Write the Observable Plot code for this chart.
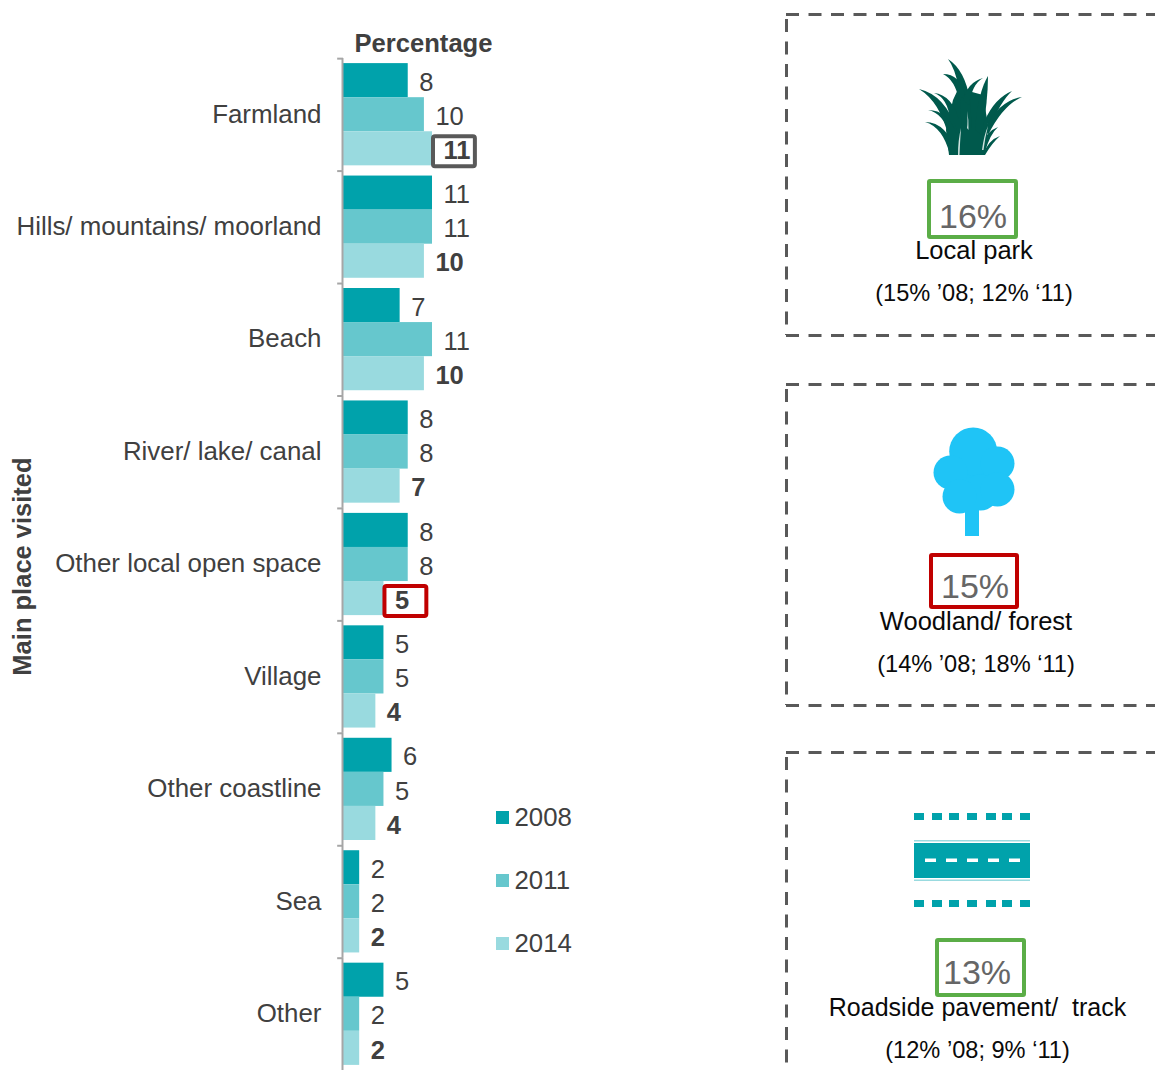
<!DOCTYPE html>
<html>
<head>
<meta charset="utf-8">
<style>
html,body{margin:0;padding:0;background:#fff;overflow:hidden;width:1155px;height:1070px}
#wrap{position:relative;width:1155px;height:1070px}
#wrap svg{position:absolute;left:0;top:0}
</style>
<script src="https://cdn.jsdelivr.net/npm/d3@7"></script>
<script src="https://cdn.jsdelivr.net/npm/@observablehq/plot@0.6"></script>
</head>
<body>
<div id="wrap"></div>
<script>
const categories = ["Farmland","Hills/ mountains/ moorland","Beach","River/ lake/ canal","Other local open space","Village","Other coastline","Sea","Other"];
const years = [2008,2011,2014];
const v2008 = [8,11,7,8,8,5,6,2,5];
const v2011 = [10,11,11,8,8,5,5,2,2];
const v2014 = [11,10,10,7,5,4,4,2,2];
const yearColors = ["#00A2AB","#66C7CD","#99DADF"];
const highlights = [{cat:"Farmland",year:2014,v:11,color:"#595959"},{cat:"Other local open space",year:2014,v:5,color:"#C00000"}];

const panelNames = ["Local park","Woodland/ forest","Roadside pavement/  track"];
const panelPct = ["16%","15%","13%"];
const panelPrev = ["(15% ’08; 12% ‘11)","(14% ’08; 18% ‘11)","(12% ’08; 9% ‘11)"];
const panelColors = ["#5BAD47","#C00000","#5BAD47"];

const rows = [v2008,v2011,v2014].flatMap((vals,i)=>vals.map((v,j)=>({cat:categories[j],year:years[i],v})));
const ink = "#404040", axisGrey = "#A6A6A6", font = "Liberation Sans, Arial, sans-serif";

const chart = Plot.plot({
  width:780, height:1070, marginTop:58, marginBottom:0, marginLeft:343, marginRight:0,
  style:{fontFamily:font, background:"transparent"},
  x:{domain:[0,11], range:[343,432], axis:null},
  y:{domain:years, paddingInner:0, paddingOuter:0.15, round:false, axis:null},
  fy:{domain:categories, padding:0, round:false},
  color:{domain:years, range:yearColors},
  marks:[
    Plot.axisFy({anchor:"left", tickSize:0, tickPadding:22, fontSize:25.9, label:null, fill:ink, dy:-0.5}),
    Plot.barX(rows,{x:"v", y:"year", fy:"cat", fill:"year"}),
    Plot.ruleX([0],{stroke:axisGrey, strokeWidth:2, dx:-1}),
    Plot.ruleY([years[0]],{x1:-0.72, x2:0, dy:-22, stroke:axisGrey, strokeWidth:2}),
    Plot.barX(highlights,{x1:"v", x2:d=>d.v+5.3, y:"year", fy:"cat", fill:"white", stroke:"color", strokeWidth:4, rx:2, insetTop:5, insetBottom:-1, insetLeft:1}),
    Plot.text(rows.filter(d=>d.year!==2014),{x:"v", y:"year", fy:"cat", text:"v", dx:11, dy:2, textAnchor:"start", fontSize:25.5, fill:ink}),
    Plot.text(rows.filter(d=>d.year===2014),{x:"v", y:"year", fy:"cat", text:"v", dx:11, dy:2, textAnchor:"start", fontSize:25.5, fontWeight:"bold", fill:ink})
  ]
});

// Page-space layer: headings, legend, panels and pictograms
const tops = [14,384,752], bottoms = [335,705,null];
const boxes = [[929,1016,181,237],[931,1017,555,607],[937,1024,940,995]];
const centers = [973.5,975.5,977];
const pctCenters = [972.5,974.5,976.5];
const pctBase = [227,597,983], nameBase = [258,629,1015], prevBase = [300,671,1057];
const idx = [0,1,2];
const dash = "13 9.5", panelStroke = "#595959", road = "#00A2AB", leaf = "#1FC4F6", grassColor = "#00594C";

const grass = [
 "M949,155 L946,130 L953,100 L960,85 L972,92 L983,95 L988,125 L985,155 Z",
 "M961,130 Q962,78 948,59 Q965,70 970,100 L972,130 Z",
 "M959,100 Q955,80 943,74 Q960,74 965,95 Z",
 "M963,100 Q968,82 983,78 Q972,84 969,105 Z",
 "M975,130 Q978,92 988,76 Q988,100 982,135 Z",
 "M948,135 Q940,102 919,89 Q945,95 957,130 Z",
 "M950,120 Q948,98 934,93 Q952,95 959,120 Z",
 "M985,120 Q995,98 1012,91 Q1000,102 990,128 Z",
 "M985,128 Q1000,100 1022,97 Q1003,105 988,135 Z",
 "M950,135 Q943,113 928,110 Q948,110 957,135 Z",
 "M950,155 Q943,127 925,122 Q947,122 958,155 Z",
 "M983,145 Q985,132 998,127 Q990,134 985,152 Z",
 "M983,155 Q988,140 1000,136 Q992,143 985,155 Z"
];
const grassSlits = [
 "M958,155 Q958,140 961,128 Q960,142 959.5,155 Z",
 "M982,150 Q984,135 988,126 Q985,138 983.5,150 Z",
 "M967,128 Q968,123 967,111 Q969,120 968.5,130 Z"
];
const treeBlobs = [[972.7,451,24],[997,463,17],[950,472,17],[997,489,17],[959,496,17],[980,492,18],[972,475,26]];
const sideSquares = [914,932,949,967,986,1002,1020];
const laneDashes = [925,946,967,988,1009];

const overlay = Plot.plot({
  width:1155, height:1070, margin:0,
  style:{fontFamily:font, background:"transparent"},
  x:{type:"identity", axis:null}, y:{type:"identity", axis:null}, r:{type:"identity"},
  marks:[
    Plot.text(["Percentage"],{x:()=>423, y:()=>51, text:d=>d, lineAnchor:"bottom", fontSize:25.6, fontWeight:"bold", fill:ink}),
    Plot.text(["Main place visited"],{x:()=>22, y:()=>566, text:d=>d, rotate:-90, fontSize:25.5, fontWeight:"bold", fill:ink}),
    // legend
    Plot.rect(idx,{x1:()=>496, x2:()=>509, y1:i=>811+63*i, y2:i=>824+63*i, fill:i=>yearColors[i]}),
    Plot.text(idx,{x:()=>514, y:i=>817+63*i, text:i=>String(years[i]), textAnchor:"start", fontSize:25.8, fill:ink}),
    // dashed panel frames, open on the right
    Plot.ruleY(idx,{y:i=>tops[i], x1:()=>786, x2:()=>1155, stroke:panelStroke, strokeWidth:3, strokeDasharray:dash}),
    Plot.ruleY(idx.slice(0,2),{y:i=>bottoms[i], x1:()=>786, x2:()=>1155, stroke:panelStroke, strokeWidth:3, strokeDasharray:dash}),
    Plot.ruleX(idx,{x:()=>786, y1:i=>tops[i]+5, y2:i=>bottoms[i]??1070, stroke:panelStroke, strokeWidth:3, strokeDasharray:dash}),
    // grass
    () => {
      const g = d3.create("svg:g");
      grass.forEach(d=>g.append("path").attr("d",d).attr("fill",grassColor));
      grassSlits.forEach(d=>g.append("path").attr("d",d).attr("fill","#cfe3df"));
      return g.node();
    },
    // tree
    Plot.dot(treeBlobs,{x:d=>d[0], y:d=>d[1], r:d=>d[2], fill:leaf}),
    Plot.rect([0],{x1:()=>965, x2:()=>979, y1:()=>505, y2:()=>536, fill:leaf}),
    // road
    Plot.rect([813,900].flatMap(y=>sideSquares.map(x=>[x,y])),{x1:d=>d[0], x2:d=>d[0]+10, y1:d=>d[1], y2:d=>d[1]+7, fill:road}),
    Plot.rect([0],{x1:()=>914, x2:()=>1030, y1:()=>840, y2:()=>881, fill:"#99DADF"}),
    Plot.rect([0],{x1:()=>914, x2:()=>1030, y1:()=>841.5, y2:()=>879.5, fill:"#fff"}),
    Plot.rect([0],{x1:()=>914, x2:()=>1030, y1:()=>843, y2:()=>878, fill:road}),
    Plot.rect(laneDashes,{x1:d=>d, x2:d=>d+11, y1:()=>858.5, y2:()=>862, fill:"#fff"}),
    // panel text
    Plot.rect(idx,{x1:i=>boxes[i][0], x2:i=>boxes[i][1], y1:i=>boxes[i][2], y2:i=>boxes[i][3], fill:"none", stroke:i=>panelColors[i], strokeWidth:4, rx:1}),
    Plot.text(idx,{x:i=>pctCenters[i], y:i=>pctBase[i], text:i=>panelPct[i], lineAnchor:"bottom", fontSize:34, fill:"#666666"}),
    Plot.text(idx.slice(0,2),{x:i=>centers[i], y:i=>nameBase[i], text:i=>panelNames[i], lineAnchor:"bottom", fontSize:25.5, fill:"#0a0a0a"}),
    Plot.text([2],{x:i=>centers[i], y:i=>nameBase[i], text:i=>panelNames[i], lineAnchor:"bottom", fontSize:25, fill:"#0a0a0a"}),
    Plot.text(idx,{x:i=>centers[i], y:i=>prevBase[i], text:i=>panelPrev[i], lineAnchor:"bottom", fontSize:23.6, fill:"#0a0a0a"})
  ]
});

const wrap = document.getElementById("wrap");
wrap.append(chart, overlay);
</script>
</body>
</html>
